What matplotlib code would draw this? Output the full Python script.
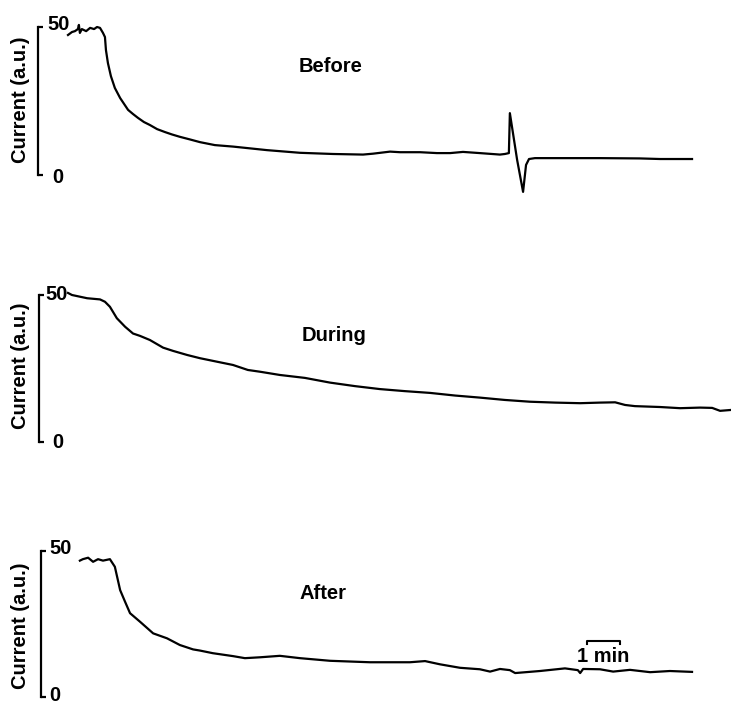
import numpy as np
import matplotlib
matplotlib.use('Agg')
import matplotlib.pyplot as plt

plt.rcParams['font.family'] = ['Liberation Sans', 'DejaVu Sans']
plt.rcParams['font.weight'] = 'bold'

# time in minutes, current in a.u.
before_t = [0.00, 0.12, 0.21, 0.30, 0.33, 0.36, 0.42, 0.55, 0.67, 0.79, 0.88, 0.97,
            1.06, 1.12, 1.15, 1.21, 1.30, 1.42, 1.58, 1.70, 1.82, 1.97, 2.12, 2.30,
            2.48, 2.70, 2.94, 3.15, 3.39, 3.70, 4.00, 4.45, 5.00, 6.03, 7.03, 8.03,
            8.94, 9.24, 9.76, 10.06, 10.67, 11.18, 11.58, 11.97, 12.48, 13.09, 13.24,
            13.36, 13.39, 13.61, 13.79, 13.88, 13.97, 14.15, 14.91, 16.12, 17.33,
            17.94, 18.91]
before_i = [47.3, 48.3, 48.6, 49.3, 50.7, 48.0, 49.3, 48.6, 49.7, 49.3, 50.0, 49.7,
            48.0, 46.6, 42.2, 37.8, 33.4, 29.4, 26.0, 24.0, 22.0, 20.6, 19.3, 17.9,
            16.9, 15.5, 14.5, 13.7, 12.9, 12.0, 11.1, 10.1, 9.6, 8.4, 7.5, 7.1,
            6.9, 7.2, 7.9, 7.7, 7.7, 7.4, 7.4, 7.8, 7.4, 6.9, 7.1,
            7.4, 20.9, 5.1, -5.7, 3.4, 5.4, 5.7, 5.7, 5.7, 5.6,
            5.4, 5.4]

during_t = [0.00, 0.12, 0.58, 0.97, 1.12, 1.27, 1.48, 1.73, 1.97, 2.18, 2.48, 2.88,
            3.18, 3.61, 4.00, 4.52, 5.00, 5.45, 5.82, 6.42, 7.18, 7.94, 8.70, 9.45,
            10.21, 10.97, 11.73, 12.48, 13.24, 14.00, 14.76, 15.52, 16.12, 16.58, 16.88,
            17.18, 17.94, 18.55, 19.15, 19.52, 19.76, 20.09]
during_i = [50.7, 50.0, 48.9, 48.5, 47.7, 46.0, 42.1, 39.2, 36.9, 36.1, 34.7, 32.1,
            31.0, 29.6, 28.5, 27.3, 26.2, 24.5, 23.9, 22.8, 21.8, 20.2, 19.0, 18.0,
            17.3, 16.7, 15.8, 15.1, 14.3, 13.7, 13.4, 13.2, 13.4, 13.5, 12.6,
            12.2, 11.9, 11.5, 11.7, 11.6, 10.6, 10.9]

after_t = [0.36, 0.45, 0.61, 0.76, 0.91, 1.06, 1.27, 1.42, 1.58, 1.73, 1.88, 2.18,
           2.58, 3.00, 3.39, 3.79, 4.00, 4.39, 5.00, 5.36, 5.82, 6.42, 7.03, 7.94,
           9.15, 10.36, 10.82, 11.27, 11.88, 12.48, 12.79, 13.09, 13.39, 13.55, 14.30,
           15.06, 15.45, 15.52, 15.61, 16.12, 16.52, 17.03, 17.64, 18.24, 18.91]
after_i = [46.7, 47.2, 47.7, 46.3, 47.2, 46.7, 47.2, 44.6, 36.6, 32.6, 28.7, 25.8,
           21.8, 20.1, 17.8, 16.3, 15.9, 15.0, 14.0, 13.3, 13.6, 14.1, 13.3, 12.4,
           11.9, 11.9, 12.3, 11.2, 10.0, 9.5, 8.7, 9.6, 9.2, 8.2, 8.9,
           9.8, 9.2, 8.2, 9.6, 9.5, 8.7, 9.3, 8.5, 8.9, 8.6]

titles = ['Before', 'During', 'After']
ticks = [0, 50]

W, H = 731, 704
PXMIN = 33.0   # pixels per minute
T0 = 68        # pixel column of t = 0

fig = plt.figure(figsize=(W / 100, H / 100), dpi=100)


def panel(top, bot, zero, ppu, spine_x):
    ax = fig.add_axes([0, 1 - bot / H, 1, (bot - top) / H])
    ax.set_xlim(-T0 / PXMIN, (W - T0) / PXMIN)
    ax.set_ylim((zero - bot) / ppu, (zero - top) / ppu)
    ax.patch.set_visible(False)
    for s in ['top', 'right', 'bottom']:
        ax.spines[s].set_visible(False)
    ax.spines['left'].set_position(('data', spine_x))
    ax.spines['left'].set_bounds(0, 50)
    ax.spines['left'].set_linewidth(1.6)
    ax.set_xticks([])
    ax.set_yticks(ticks)
    ax.tick_params(axis='y', direction='in', length=3.5, width=1.6, labelleft=False)
    return ax


ax1 = panel(0, 215, 175, 2.96, -0.92)
ax2 = panel(215, 475, 442, 2.94, -0.89)
ax3 = panel(475, 704, 697, 2.92, -0.83)

lw = 1.6
ax1.plot(before_t, before_i, color='black', lw=lw, solid_joinstyle='round')
ax2.plot(during_t, during_i, color='black', lw=lw, solid_joinstyle='round')
ax3.plot(after_t, after_i, color='black', lw=lw, solid_joinstyle='round')

fs = 14.5
tkw = dict(fontsize=fs, fontweight='bold', ha='center', va='center')
ax1.text(-0.30, 51.0, '50', **tkw)
ax1.text(-0.30, -1.0, '0', **tkw)
ax2.text(-0.35, 50.0, '50', **tkw)
ax2.text(-0.30, -0.3, '0', **tkw)
ax3.text(-0.21, 50.7, '50', **tkw)
ax3.text(-0.39, 0.4, '0', **tkw)

ax1.text(7.97, 36.5, titles[0], **tkw)
ax2.text(8.06, 36.1, titles[1], **tkw)
ax3.text(7.73, 35.6, titles[2], **tkw)

for yc in [99.5, 366, 625.5]:
    fig.text(20.5 / W, 1 - yc / H, 'Current (a.u.)', rotation=90,
             fontsize=fs, fontweight='bold', ha='center', va='center')

# 1 min scale bar
ax3.plot([15.73, 15.73, 16.73, 16.73], [18.2, 19.2, 19.2, 18.2], color='black', lw=1.5)
ax3.text(16.23, 13.9, '1 min', **tkw)

fig.savefig('out.png', dpi=100, facecolor='white')
